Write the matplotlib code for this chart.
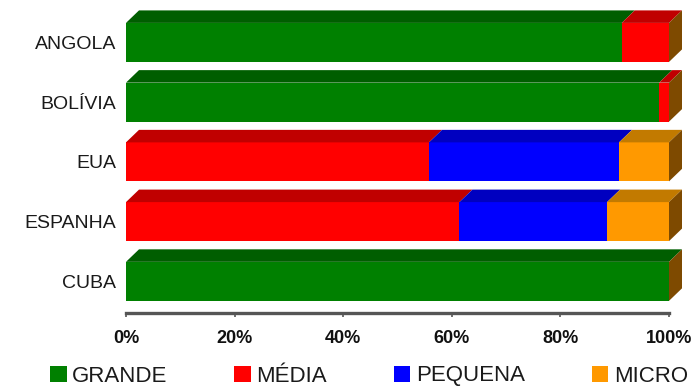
import matplotlib
matplotlib.use("Agg")
import matplotlib.pyplot as plt
from matplotlib.patches import Polygon, Patch
import numpy as np

# Company size distribution by country (shares in %)
categories = ["ANGOLA", "BOLÍVIA", "EUA", "ESPANHA", "CUBA"]
grande = [91.3, 98.2, 0.0, 0.0, 100.0]
media = [8.7, 1.8, 55.8, 61.4, 0.0]
pequena = [0.0, 0.0, 35.0, 27.2, 0.0]
micro = [0.0, 0.0, 9.2, 11.4, 0.0]
series_names = ["GRANDE", "MÉDIA", "PEQUENA", "MICRO"]
xticks = [0, 20, 40, 60, 80, 100]
xtick_labels = ["0%", "20%", "40%", "60%", "80%", "100%"]

front_colors = ["#008000", "#FF0000", "#0000FF", "#FF9900"]
top_colors = ["#005E00", "#C00000", "#0000C0", "#C27A00"]
side_color = "#7E4A00"

plt.rcParams["font.family"] = ["Liberation Sans", "DejaVu Sans"]

W, H = 694, 390
fig = plt.figure(figsize=(W / 100, H / 100), dpi=100)
x0_px, x1_px = 126, 669
axis_px = 313
ax = fig.add_axes([x0_px / W, (H - axis_px) / H, (x1_px - x0_px) / W, axis_px / H])
ax.set_xlim(0, 100)
ax.set_ylim(-0.53, 4.71)

bar_h = 0.653           # front face height (category units)
dx = 13 / ((x1_px - x0_px) / 100)   # depth offset in % units (13 px)
dy = 12.5 / 59.7                    # depth offset in category units

ypos = np.arange(len(categories))[::-1]
all_series = [grande, media, pequena, micro]

for i, y in enumerate(ypos):
    left = 0.0
    for vals, fc, tc in zip(all_series, front_colors, top_colors):
        w = vals[i]
        if w <= 0:
            continue
        ax.barh(y, w, left=left, height=bar_h, color=fc, edgecolor="none", zorder=2)
        yt = y + bar_h / 2
        top = Polygon([(left, yt), (left + w, yt), (left + w + dx, yt + dy), (left + dx, yt + dy)],
                      closed=True, facecolor=tc, edgecolor="none", clip_on=False, zorder=2)
        ax.add_patch(top)
        left += w
    yb = y - bar_h / 2
    yt = y + bar_h / 2
    side = Polygon([(left, yb), (left, yt), (left + dx, yt + dy), (left + dx, yb + dy)],
                   closed=True, facecolor=side_color, edgecolor="none", clip_on=False, zorder=2)
    ax.add_patch(side)

ax.set_yticks(ypos)
ax.set_yticklabels(categories, fontsize=14, color="#1a1a1a")
ax.tick_params(axis="y", length=0, pad=7)

ax.set_xticks(xticks)
ax.set_xticklabels(xtick_labels, fontsize=13, fontweight="bold", color="#111111")
ax.tick_params(axis="x", direction="out", length=3, width=1.2, color="#555555", pad=9)

for s in ("left", "top", "right"):
    ax.spines[s].set_visible(False)
ax.spines["bottom"].set_color("#555555")
ax.spines["bottom"].set_linewidth(2.4)
ax.patch.set_visible(False)

handles = [Patch(facecolor=c, edgecolor="none") for c in front_colors]
fig.legend(handles, series_names, loc="center left", bbox_to_anchor=(50 / W, (H - 376) / H),
           ncol=4, frameon=False, fontsize=16, borderpad=0, borderaxespad=0,
           handlelength=0.75, handleheight=0.75, handletextpad=0.25, columnspacing=3.0,
           labelcolor="#1a1a1a")

fig.savefig("out.png", dpi=100)
